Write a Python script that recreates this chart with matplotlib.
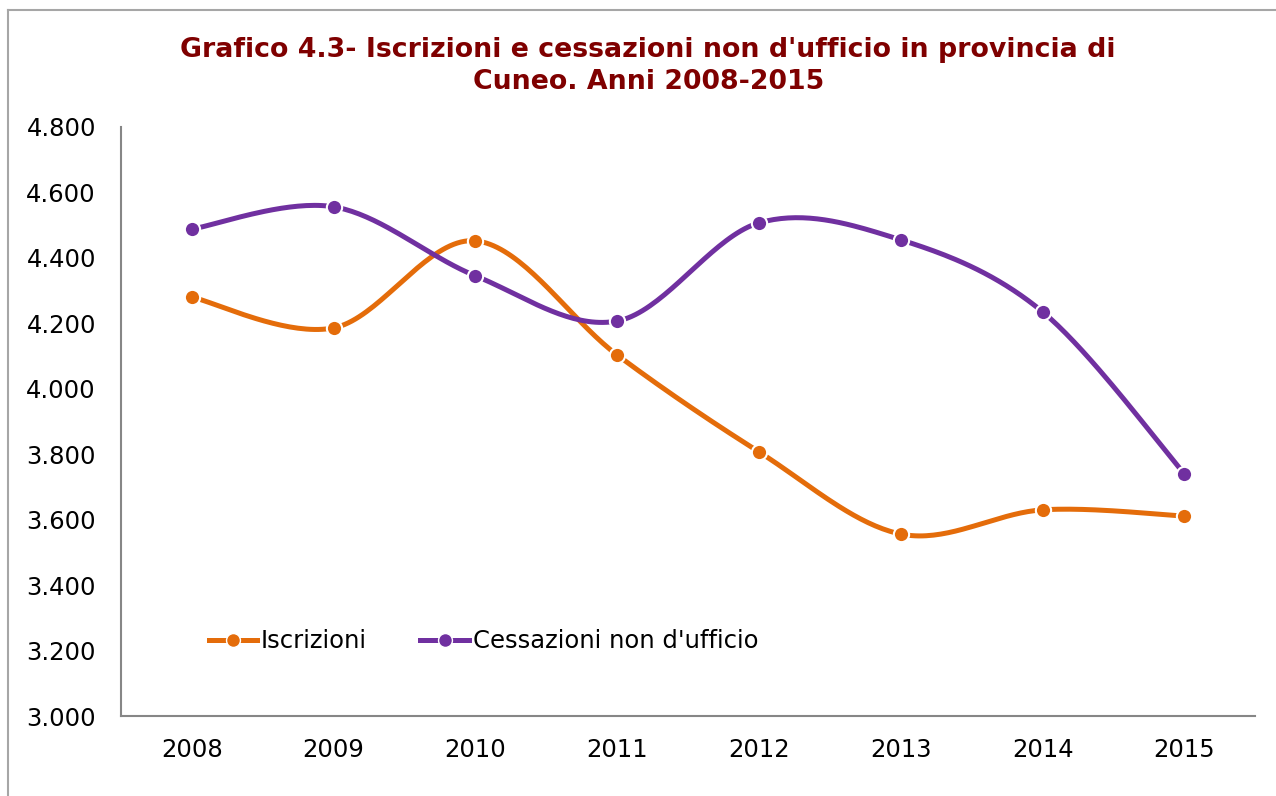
import numpy as np
import matplotlib.pyplot as plt
from matplotlib.lines import Line2D
from matplotlib.ticker import FuncFormatter

years = ['2008', '2009', '2010', '2011', '2012', '2013', '2014', '2015']
iscrizioni = [4280, 4186, 4452, 4103, 3807, 3556, 3630, 3611]
cessazioni = [4488, 4556, 4345, 4207, 4507, 4455, 4235, 3740]

ORANGE = '#E46C0A'
PURPLE = '#7030A0'


def smooth(xs, ys, n=40):
    # excel-style smoothed line: bezier with control points from neighbours
    xs = np.asarray(xs, float)
    ys = np.asarray(ys, float)
    px, py = [], []
    for i in range(len(xs) - 1):
        i0 = max(i - 1, 0)
        i3 = min(i + 2, len(xs) - 1)
        c1x = xs[i] + (xs[i + 1] - xs[i0]) / 6
        c1y = ys[i] + (ys[i + 1] - ys[i0]) / 6
        c2x = xs[i + 1] - (xs[i3] - xs[i]) / 6
        c2y = ys[i + 1] - (ys[i3] - ys[i]) / 6
        t = np.linspace(0, 1, n)
        px.extend((1-t)**3*xs[i] + 3*(1-t)**2*t*c1x + 3*(1-t)*t**2*c2x + t**3*xs[i+1])
        py.extend((1-t)**3*ys[i] + 3*(1-t)**2*t*c1y + 3*(1-t)*t**2*c2y + t**3*ys[i+1])
    return px, py


plt.rcParams['font.family'] = ['DejaVu Sans']
fig = plt.figure(figsize=(12.76, 7.96), dpi=100)
ax = fig.add_axes([0.0948, 0.1005, 0.889, 0.74])

x = np.arange(len(years))
for vals, col in [(iscrizioni, ORANGE), (cessazioni, PURPLE)]:
    sx, sy = smooth(x, vals)
    ax.plot(sx, sy, color=col, lw=3.6, solid_capstyle='round', zorder=2)
    ax.plot(x, vals, 'o', color=col, ms=11, mec='white', mew=1.5, zorder=3)

ax.set_xlim(-0.5, 7.5)
ax.set_ylim(3000, 4800)
ax.set_yticks(np.arange(3000, 4801, 200))
ax.yaxis.set_major_formatter(FuncFormatter(lambda v, p: f'{int(v):,}'.replace(',', '.')))
ax.set_xticks(x)
ax.set_xticklabels(years)
ax.tick_params(axis='both', labelsize=17.5, length=0, colors='black')
ax.tick_params(axis='x', pad=16)
ax.tick_params(axis='y', pad=18)
for s in ['top', 'right']:
    ax.spines[s].set_visible(False)
for s in ['left', 'bottom']:
    ax.spines[s].set_color('#868686')
    ax.spines[s].set_linewidth(1.5)

handles = [Line2D([], [], color=ORANGE, lw=3.6, marker='o', ms=10, mec='white', mew=1),
           Line2D([], [], color=PURPLE, lw=3.6, marker='o', ms=10, mec='white', mew=1)]
ax.legend(handles, ['Iscrizioni', "Cessazioni non d'ufficio"], loc='center left',
          bbox_to_anchor=(0.058, 0.127), ncol=2, frameon=False, fontsize=17.5,
          handlelength=2.0, handletextpad=0.15, columnspacing=2.2)

fig.suptitle("Grafico 4.3- Iscrizioni e cessazioni non d'ufficio in provincia di\nCuneo. Anni 2008-2015",
             x=0.508, y=0.953, va='top', fontsize=19.3, fontweight='bold', color='#7F0000', linespacing=1.27)

# chart frame
fig.add_artist(Line2D([8/1276, 8/1276], [0, 1 - 10/796], transform=fig.transFigure, color='#A6A6A6', lw=1.5))
fig.add_artist(Line2D([8/1276, 1], [1 - 10/796, 1 - 10/796], transform=fig.transFigure, color='#A6A6A6', lw=1.5))

fig.savefig('out.png', dpi=100)
